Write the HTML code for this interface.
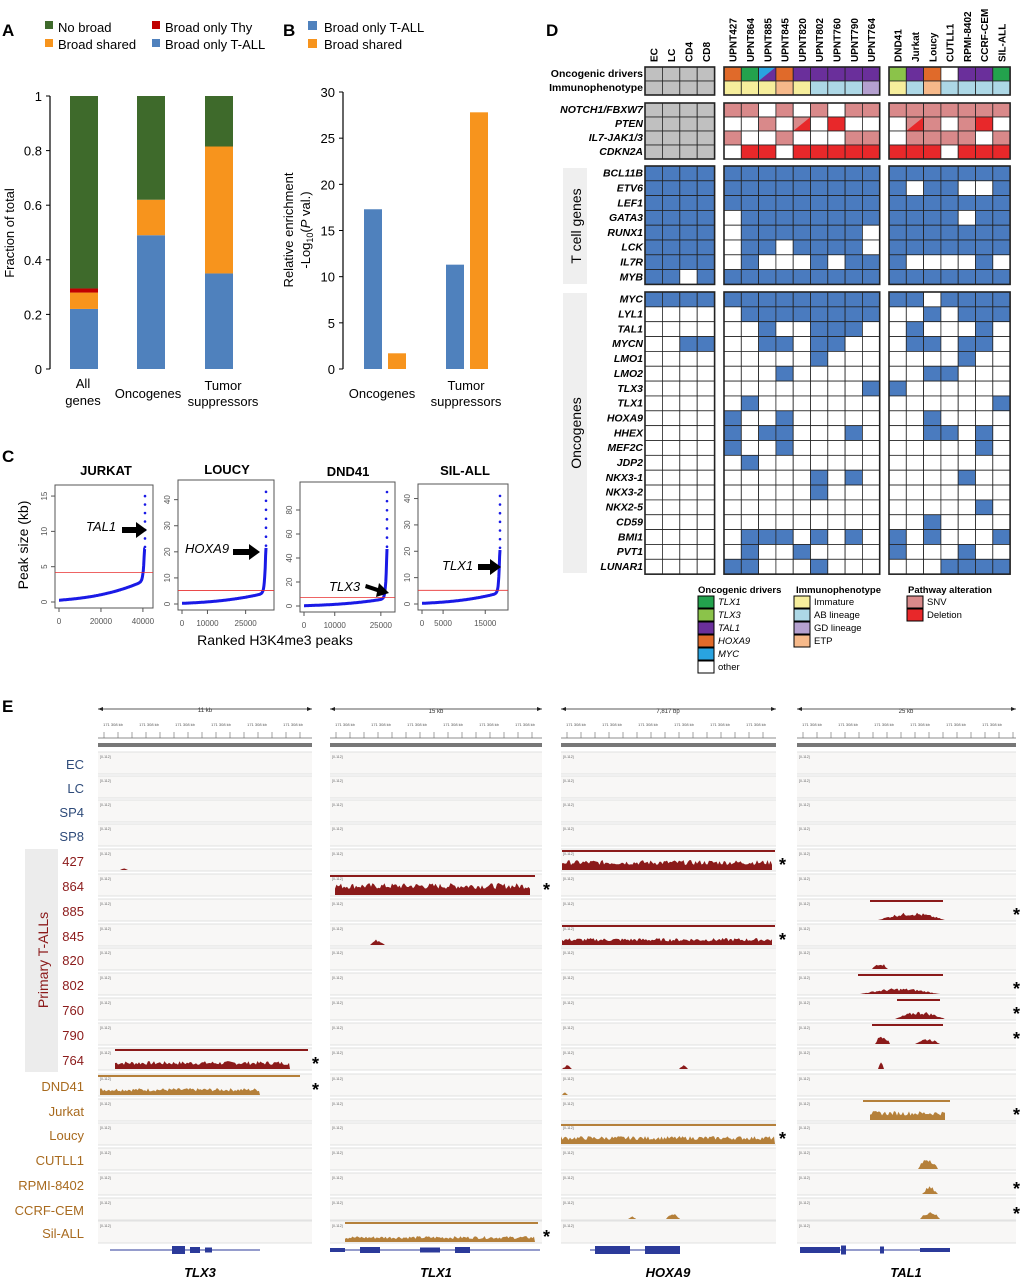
<!DOCTYPE html>
<html><head><meta charset="utf-8"><style>
body{margin:0;background:#fff}
svg{display:block;font-family:"Liberation Sans",Arial,sans-serif}
</style></head><body>
<svg id="s" width="1022" height="1280" viewBox="0 0 1022 1280" xmlns="http://www.w3.org/2000/svg">
<rect width="1022" height="1280" fill="#fff"/>
<!-- Panel A -->
<text x="2" y="36" font-size="17" font-weight="bold">A</text>
<rect x="45" y="21" width="8" height="8" fill="#3e6a2b"/><text x="58" y="32" font-size="13">No broad</text>
<rect x="45" y="39" width="8" height="8" fill="#f7941d"/><text x="58" y="49" font-size="13">Broad shared</text>
<rect x="152" y="21" width="8" height="8" fill="#c00000"/><text x="165" y="32" font-size="13">Broad only Thy</text>
<rect x="152" y="39" width="8" height="8" fill="#4f81bd"/><text x="165" y="49" font-size="13">Broad only T-ALL</text>
<g id="A"></g>
<text transform="translate(14,233) rotate(-90)" font-size="13" text-anchor="middle">Fraction of total</text>
<text x="83" y="388" font-size="13" text-anchor="middle">All</text>
<text x="83" y="405" font-size="13" text-anchor="middle">genes</text>
<text x="148" y="398" font-size="13" text-anchor="middle">Oncogenes</text>
<text x="223" y="390" font-size="13" text-anchor="middle">Tumor</text>
<text x="223" y="406" font-size="13" text-anchor="middle">suppressors</text>
<!-- Panel B -->
<text x="283" y="36" font-size="17" font-weight="bold">B</text>
<rect x="308" y="21" width="9" height="9" fill="#4f81bd"/><text x="324" y="32" font-size="13">Broad only T-ALL</text>
<rect x="308" y="39" width="9" height="9" fill="#f7941d"/><text x="324" y="49" font-size="13">Broad shared</text>
<g id="B"></g>
<text transform="translate(293,230) rotate(-90)" font-size="13" text-anchor="middle">Relative enrichment</text>
<text transform="translate(310,230) rotate(-90)" font-size="13" text-anchor="middle">-Log<tspan font-size="9" dy="3">10</tspan><tspan dy="-3">(</tspan><tspan font-style="italic">P</tspan> val.)</text>
<text x="382" y="398" font-size="13" text-anchor="middle">Oncogenes</text>
<text x="466" y="390" font-size="13" text-anchor="middle">Tumor</text>
<text x="466" y="406" font-size="13" text-anchor="middle">suppressors</text>
<!-- Panel C -->
<text x="2" y="462" font-size="17" font-weight="bold">C</text>
<text x="106" y="475" font-size="13" font-weight="bold" text-anchor="middle">JURKAT</text>
<text x="227" y="474" font-size="13" font-weight="bold" text-anchor="middle">LOUCY</text>
<text x="348" y="476" font-size="13" font-weight="bold" text-anchor="middle">DND41</text>
<text x="465" y="475" font-size="13" font-weight="bold" text-anchor="middle">SIL-ALL</text>
<g id="C"></g>
<text transform="translate(28,545) rotate(-90)" font-size="14" text-anchor="middle">Peak size (kb)</text>
<text x="275" y="645" font-size="14" text-anchor="middle">Ranked H3K4me3 peaks</text>
<text x="86" y="531" font-size="13" font-style="italic">TAL1</text>
<path d="M122,527 h14 v-5 l11,8 l-11,8 v-5 h-14z" fill="#000"/>
<text x="185" y="553" font-size="13" font-style="italic">HOXA9</text>
<path d="M233,549 h16 v-5 l11,8 l-11,8 v-5 h-16z" fill="#000"/>
<text x="329" y="591" font-size="13" font-style="italic">TLX3</text>
<path d="M366,584 l12,4 l1,-5 l10,10 l-13,4 l1,-5 l-12,-4z" fill="#000"/>
<text x="442" y="570" font-size="13" font-style="italic">TLX1</text>
<path d="M478,564 h12 v-5 l11,8 l-11,8 v-5 h-12z" fill="#000"/>
<!-- Panel D -->
<text x="546" y="36" font-size="17" font-weight="bold">D</text>
<g id="D" font-size="10.5" font-weight="bold"></g>
<rect x="563" y="168" width="24" height="116" fill="#efefef"/>
<text transform="translate(581,226) rotate(-90)" font-size="14" text-anchor="middle">T cell genes</text>
<rect x="563" y="293" width="24" height="280" fill="#efefef"/>
<text transform="translate(581,433) rotate(-90)" font-size="14" text-anchor="middle">Oncogenes</text>
<g font-size="9.5">
<text x="698" y="593" font-weight="bold">Oncogenic drivers</text>
<text x="796" y="593" font-weight="bold">Immunophenotype</text>
<text x="908" y="593" font-weight="bold">Pathway alteration</text>
<rect x="698" y="596" width="16" height="12" fill="#23a24d" stroke="#000"/><text x="718" y="605" font-style="italic">TLX1</text>
<rect x="698" y="609" width="16" height="12" fill="#8bc34a" stroke="#000"/><text x="718" y="618" font-style="italic">TLX3</text>
<rect x="698" y="622" width="16" height="12" fill="#6a2f9b" stroke="#000"/><text x="718" y="631" font-style="italic">TAL1</text>
<rect x="698" y="635" width="16" height="12" fill="#e06a2a" stroke="#000"/><text x="718" y="644" font-style="italic">HOXA9</text>
<rect x="698" y="648" width="16" height="12" fill="#29a3e0" stroke="#000"/><text x="718" y="657" font-style="italic">MYC</text>
<rect x="698" y="661" width="16" height="12" fill="#fff" stroke="#000"/><text x="718" y="670">other</text>
<rect x="794" y="596" width="16" height="12" fill="#f6ee9c" stroke="#000"/><text x="814" y="605">Immature</text>
<rect x="794" y="609" width="16" height="12" fill="#add8e6" stroke="#000"/><text x="814" y="618">AB lineage</text>
<rect x="794" y="622" width="16" height="12" fill="#b4a0cf" stroke="#000"/><text x="814" y="631">GD lineage</text>
<rect x="794" y="635" width="16" height="12" fill="#f6b98a" stroke="#000"/><text x="814" y="644">ETP</text>
<rect x="907" y="596" width="16" height="12" fill="#d9898a" stroke="#000"/><text x="927" y="605">SNV</text>
<rect x="907" y="609" width="16" height="12" fill="#e8282a" stroke="#000"/><text x="927" y="618">Deletion</text>
</g>
<!-- Panel E -->
<text x="2" y="712" font-size="17" font-weight="bold">E</text>
<rect x="25" y="849" width="33" height="223" fill="#ececec"/>
<text transform="translate(48,960) rotate(-90)" font-size="14" fill="#8b1a1a" text-anchor="middle">Primary T-ALLs</text>
<g id="E"></g>
<g font-size="13" text-anchor="end">
<text x="84" y="769" fill="#2e4b7a">EC</text><text x="84" y="793" fill="#2e4b7a">LC</text>
<text x="84" y="817" fill="#2e4b7a">SP4</text><text x="84" y="841" fill="#2e4b7a">SP8</text>
<text x="84" y="866" fill="#8b1a1a">427</text><text x="84" y="891" fill="#8b1a1a">864</text>
<text x="84" y="916" fill="#8b1a1a">885</text><text x="84" y="941" fill="#8b1a1a">845</text>
<text x="84" y="965" fill="#8b1a1a">820</text><text x="84" y="990" fill="#8b1a1a">802</text>
<text x="84" y="1015" fill="#8b1a1a">760</text><text x="84" y="1040" fill="#8b1a1a">790</text>
<text x="84" y="1065" fill="#8b1a1a">764</text><text x="84" y="1091" fill="#a86a1e">DND41</text>
<text x="84" y="1116" fill="#a86a1e">Jurkat</text><text x="84" y="1140" fill="#a86a1e">Loucy</text>
<text x="84" y="1165" fill="#a86a1e">CUTLL1</text><text x="84" y="1190" fill="#a86a1e">RPMI-8402</text>
<text x="84" y="1215" fill="#a86a1e">CCRF-CEM</text><text x="84" y="1238" fill="#a86a1e">Sil-ALL</text>
</g>
<g font-size="13" font-weight="bold" font-style="italic" text-anchor="middle">
<text x="200" y="1277">TLX3</text><text x="436" y="1277">TLX1</text>
<text x="668" y="1277">HOXA9</text><text x="906" y="1277">TAL1</text>
</g>
<g font-size="6" text-anchor="middle" fill="#333">
<text x="205" y="712">11 kb</text><text x="436" y="713">15 kb</text><text x="668" y="713">7,817 bp</text><text x="906" y="713">25 kb</text>
</g>
</svg>
<script>
const NS="http://www.w3.org/2000/svg";
function el(p,t,a,txt){const e=document.createElementNS(NS,t);for(const k in a)e.setAttribute(k,a[k]);if(txt!==undefined)e.textContent=txt;document.getElementById(p).appendChild(e);return e;}
// A
(function(){const y0=369,H=273,ax=50;
el("A","line",{x1:ax,y1:96,x2:ax,y2:y0,stroke:"#000","stroke-width":1.2});
[0,0.2,0.4,0.6,0.8,1].forEach(v=>{const y=y0-v*H;el("A","line",{x1:ax-4,y1:y,x2:ax,y2:y,stroke:"#000"});el("A","text",{x:ax-8,y:y+5,"font-size":13,"text-anchor":"end"},String(v));});
const bars=[[70,[[0,.22,"#4f81bd"],[.22,.28,"#f7941d"],[.28,.295,"#c00000"],[.295,1,"#3e6a2b"]]],[137,[[0,.49,"#4f81bd"],[.49,.62,"#f7941d"],[.62,1,"#3e6a2b"]]],[205,[[0,.35,"#4f81bd"],[.35,.815,"#f7941d"],[.815,1,"#3e6a2b"]]]];
bars.forEach(([x,s])=>s.forEach(([a,b,c])=>el("A","rect",{x:x,y:y0-b*H,width:28,height:(b-a)*H,fill:c})));
})();
// B
(function(){const y0=369,ax=343,H=277;
el("B","line",{x1:ax,y1:92,x2:ax,y2:y0,stroke:"#000","stroke-width":1.2});
[0,5,10,15,20,25,30].forEach(v=>{const y=y0-v/30*H;el("B","line",{x1:ax-4,y1:y,x2:ax,y2:y,stroke:"#000"});el("B","text",{x:ax-8,y:y+5,"font-size":13,"text-anchor":"end"},String(v));});
[[364,17.3,"#4f81bd"],[388,1.7,"#f7941d"],[446,11.3,"#4f81bd"],[470,27.8,"#f7941d"]].forEach(([x,v,c])=>el("B","rect",{x:x,y:y0-v/30*H,width:18,height:v/30*H,fill:c}));
})();
// C
(function(){const P=[{x:55,y:485,w:98,h:123,max:16,ticks:[0,5,10,15],red:4.2,xt:[[0,"0"],[20000,"20000"],[40000,"40000"]],n:41000,top:15,mid:2.8},
{x:178,y:480,w:96,h:130,max:46,ticks:[0,10,20,30,40],red:5.2,xt:[[0,"0"],[10000,"10000"],[25000,"25000"]],n:33000,top:43,mid:4},
{x:300,y:482,w:95,h:130,max:100,ticks:[0,20,40,60,80],red:7,xt:[[0,"0"],[10000,"10000"],[25000,"25000"]],n:27000,top:95,mid:6},
{x:418,y:484,w:90,h:126,max:44,ticks:[0,10,20,30,40],red:5.2,xt:[[0,"0"],[5000,"5000"],[15000,"15000"]],n:18500,top:41,mid:4}];
P.forEach(p=>{const by=p.y+p.h-6;const sy=v=>by-v/p.max*(p.h-10);const sx=i=>p.x+4+i/p.n*(p.w-12);
el("C","rect",{x:p.x,y:p.y,width:p.w,height:p.h,fill:"none",stroke:"#555"});
p.ticks.forEach(t=>{el("C","line",{x1:p.x-4,y1:sy(t),x2:p.x,y2:sy(t),stroke:"#555"});el("C","text",{transform:`translate(${p.x-8},${sy(t)}) rotate(-90)`,"font-size":8,fill:"#555","text-anchor":"middle"},String(t));});
p.xt.forEach(([v,l])=>{el("C","line",{x1:sx(v),y1:p.y+p.h,x2:sx(v),y2:p.y+p.h+4,stroke:"#555"});el("C","text",{x:sx(v),y:p.y+p.h+16,"font-size":8,fill:"#555","text-anchor":"middle"},l);});
let d="";const tailTop=p.top*0.5;for(let i=0;i<=200;i++){const f=i/200;let v=0.25+p.mid*(0.35*f+0.65*Math.pow(f,2.5))+tailTop*Math.pow(f,80);d+=(i?"L":"M")+sx(f*p.n).toFixed(1)+","+sy(Math.min(v,tailTop)).toFixed(1);}
el("C","path",{d:d,fill:"none",stroke:"#1a1ae6","stroke-width":3});
for(let j=0;j<7;j++)el("C","circle",{cx:sx(p.n),cy:sy(p.top*(0.52+j*0.08)),r:1.3,fill:"#1a1ae6"});
el("C","line",{x1:p.x,y1:sy(p.red),x2:p.x+p.w,y2:sy(p.red),stroke:"#e83030","stroke-width":0.8});});
})();
// D
(function(){
const g1={x:645,w:17.4,n:4},g2={x:724,w:17.3,n:9},g3={x:889,w:17.3,n:7};
const cols=[["EC","LC","CD4","CD8"],["UPNT427","UPNT864","UPNT885","UPNT845","UPNT820","UPNT802","UPNT760","UPNT790","UPNT764"],["DND41","Jurkat","Loucy","CUTLL1","RPMI-8402","CCRF-CEM","SIL-ALL"]];
const G=[g1,g2,g3];
G.forEach((g,gi)=>cols[gi].forEach((c,i)=>el("D","text",{transform:`translate(${g.x+i*g.w+g.w/2+4},62) rotate(-90)`,"font-size":10},c)));
const C={o:"#e06a2a",g:"#23a24d",p:"#6a2f9b",l:"#8bc34a",c:"#29a3e0",w:"#fff",y:"#f6ee9c",b:"#add8e6",e:"#f6b98a",v:"#b4a0cf",k:"#d9898a",r:"#e8282a",B:"#4a7bbf",x:"#c0c0c0"};
function block(y,h,rows,labels,italic){
rows.forEach((row,ri)=>{const yy=y+ri*h;
el("D","text",{x:643,y:yy+h*0.72,"text-anchor":"end","font-style":italic?"italic":"normal"},labels[ri]);
const parts=row.split(" ");
G.forEach((g,gi)=>{const s=parts[gi];for(let i=0;i<g.n;i++){const ch=s[i];const x=g.x+i*g.w;
if(ch==="S"||ch==="T"){const c1=ch==="S"?C.c:C.k,c2=ch==="S"?C.p:C.r;
el("D","rect",{x:x,y:yy,width:g.w,height:h,fill:c1,stroke:"#222","stroke-width":0.8});
el("D","path",{d:`M${x+g.w},${yy}L${x+g.w},${yy+h}L${x},${yy+h}Z`,fill:c2});
el("D","rect",{x:x,y:yy,width:g.w,height:h,fill:"none",stroke:"#222","stroke-width":0.8});}
else el("D","rect",{x:x,y:yy,width:g.w,height:h,fill:C[ch],stroke:"#222","stroke-width":0.8});}});});
G.forEach(g=>el("D","rect",{x:g.x,y:y,width:g.n*g.w,height:rows.length*h,fill:"none",stroke:"#222","stroke-width":1.6}));}
block(67,14,["xxxx ogSopppppl lpowppg","xxxx yyyeybbbv ybebbbb"],["Oncogenic drivers","Immunophenotype"],false);
block(103,14,["xxxx kkwkwkwkk kkkkkkk","xxxx wwkwTwrww wTkwkrw","xxxx kwwkwwwkk wkkkkwk","xxxx wrrwrrrrr rrrwrrr"],["NOTCH1/FBXW7","PTEN","IL7-JAK1/3","CDKN2A"],true);
const t=s=>s.replace(/1/g,"B").replace(/0/g,"w");
block(166,14.8,["1111 111111111 1111111","1111 111111111 1011001","1111 111111111 1111111","1111 011111111 1111011","1111 011111110 1111111","1111 011011110 1111111","1111 010001011 1000010","1101 111111111 1111111"].map(t),["BCL11B","ETV6","LEF1","GATA3","RUNX1","LCK","IL7R","MYB"],true);
block(292,14.85,["1111 111111111 1101111","0000 011111111 0010111","0000 001001110 0100010","0011 001101100 0110110","0000 000001000 0000100","0000 000100000 0011000","0000 000000001 1000000","0000 010000000 0000001","0000 100100000 0010000","0000 101100010 0011010","0000 100100000 0000010","0000 010000000 0000000","0000 000001010 0000100","0000 000001000 0000000","0000 000000000 0000010","0000 000000000 0010000","0000 011101010 1010001","0000 010010000 1000100","0000 110001000 0001111"].map(t),["MYC","LYL1","TAL1","MYCN","LMO1","LMO2","TLX3","TLX1","HOXA9","HHEX","MEF2C","JDP2","NKX3-1","NKX3-2","NKX2-5","CD59","BMI1","PVT1","LUNAR1"],true);
})();
// E
(function(){
const cols=[[98,312],[330,542],[561,776],[797,1016]];
const rowsY=[764,788,812,836,861,886,911,936,960,985,1010,1035,1060,1086,1111,1135,1160,1185,1210,1233];
let seed=7;const rnd=()=>{seed=(seed*9301+49297)%233280;return seed/233280;};
cols.forEach(([a,b])=>{
el("E","line",{x1:a,y1:709,x2:b,y2:709,stroke:"#222","stroke-width":0.8});
el("E","path",{d:`M${a},709l5,-2v4z M${b},709l-5,-2v4z`,fill:"#222"});
el("E","line",{x1:a,y1:738,x2:b,y2:738,stroke:"#666","stroke-width":0.8});
for(let x=a+6;x<b;x+=14)el("E","line",{x1:x,y1:732,x2:x,y2:738,stroke:"#666","stroke-width":0.6});
for(let x=a+15;x<b-10;x+=36)el("E","text",{x:x,y:726,"font-size":4,fill:"#555","text-anchor":"middle"},"171 308 kb");
el("E","rect",{x:a,y:743,width:b-a,height:4,fill:"#777"});
rowsY.forEach(y=>{el("E","rect",{x:a,y:y-12,width:b-a,height:22,fill:"#f8f7f6"});
el("E","line",{x1:a,y1:y-12,x2:b,y2:y-12,stroke:"#d8d8d8","stroke-width":0.8});
el("E","line",{x1:a,y1:y+10,x2:b,y2:y+10,stroke:"#d8d8d8","stroke-width":0.8});
el("E","text",{x:a+2,y:y-6,"font-size":3.5,fill:"#666"},"[0-112]");});});
const R="#8b1a1a",Y="#b5803a";
function sig(x0,x1,ri,h,c,sm){const base=rowsY[ri]+9;let d=`M${x0},${base}`;for(let x=x0;x<=x1;x+=1.5){const f=(x-x0)/(x1-x0);const env=sm?Math.sin(Math.PI*f):1;const v=h*env*(0.5+0.5*rnd());d+=`L${x.toFixed(1)},${(base-v).toFixed(1)}`;}d+=`L${x1},${base}Z`;el("E","path",{d:d,fill:c});}
function bar(x0,x1,ri,c){el("E","rect",{x:x0,y:rowsY[ri]-11,width:x1-x0,height:2,fill:c});}
function star(x,ri){el("E","text",{x:x,y:rowsY[ri]+10,"font-size":18,"font-weight":"bold"},"*");}
bar(115,308,12,R);sig(115,290,12,8,R);star(312,12);
bar(98,300,13,Y);sig(100,260,13,7,Y);star(312,13);
sig(120,128,4,2,R,1);
bar(330,535,5,R);sig(335,530,5,12,R);star(543,5);
sig(370,385,7,6,R,1);
bar(345,538,19,Y);sig(345,535,19,6,Y);star(543,19);
bar(562,775,4,R);sig(562,772,4,10,R);star(779,4);
bar(562,775,7,R);sig(562,772,7,7,R);star(779,7);
bar(561,776,15,Y);sig(561,775,15,8,Y);star(779,15);
sig(562,572,12,4,R,1);sig(679,688,12,4,R,1);sig(562,568,13,3,Y,1);
sig(628,636,18,3,Y,1);sig(666,680,18,6,Y,1);
bar(870,943,6,R);sig(878,945,6,8,R,1);star(1013,6);
sig(872,888,8,7,R,1);
bar(858,943,9,R);sig(860,940,9,6,R,1);star(1013,9);
bar(897,940,10,R);sig(895,945,10,8,R,1);star(1013,10);
bar(872,943,11,R);sig(875,890,11,11,R,1);sig(915,940,11,6,R,1);star(1013,11);
sig(878,884,12,11,R,1);
bar(863,950,14,Y);sig(870,945,14,9,Y);star(1013,14);
sig(918,938,16,13,Y,1);sig(922,938,17,8,Y,1);star(1013,17);sig(920,940,18,9,Y,1);star(1013,18);
const gy=1250,GC="#2b3a9a";
[[110,260,[[172,185,8],[190,200,6],[205,212,5]]],[330,540,[[330,345,4],[360,380,6],[420,440,5],[455,470,6]]],[590,680,[[595,630,8],[645,680,8]]],[800,950,[[800,840,6],[841,846,9],[880,884,7],[920,950,4]]]].forEach(([a,b,ex])=>{
el("E","line",{x1:a,y1:gy,x2:b,y2:gy,stroke:GC,"stroke-width":1});ex.forEach(([x0,x1,h])=>el("E","rect",{x:x0,y:gy-h/2,width:x1-x0,height:h,fill:GC}));});
})();
</script>
</body></html>
